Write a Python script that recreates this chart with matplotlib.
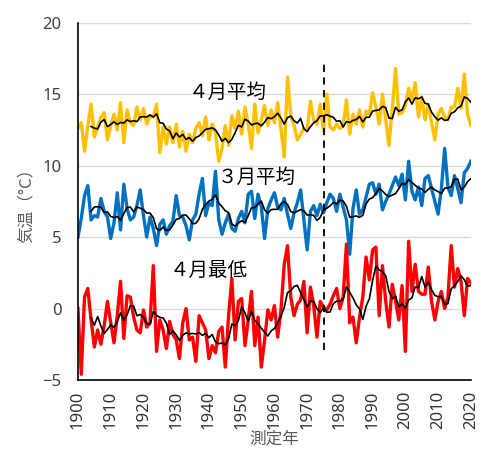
import numpy as np
import pandas as pd
import matplotlib.pyplot as plt

plt.rcParams['font.family'] = ['Noto Sans', 'Noto Sans CJK JP', 'DejaVu Sans']
cjk = ['Noto Sans CJK JP', 'DejaVu Sans']

years = list(range(1900, 2021))

# 4月平均
apr_mean = [12.6, 13.0, 11.0, 12.8, 14.3, 12.0, 12.7, 13.4, 13.7, 11.8,
            12.8, 13.6, 12.5, 14.4, 11.6, 13.9, 13.0, 12.8, 14.1, 13.2,
            14.0, 12.9, 13.5, 13.4, 14.3, 10.9, 12.7, 11.5, 12.7, 11.6,
            12.9, 11.3, 12.4, 11.0, 12.2, 11.6, 12.6, 13.0, 12.1, 13.4,
            11.8, 12.9, 12.3, 10.3, 11.2, 12.8, 11.4, 13.5, 12.6, 13.8,
            12.2, 14.1, 12.9, 11.2, 14.3, 12.3, 13.2, 14.2, 12.8, 13.9,
            13.0, 14.4, 12.6, 10.6, 16.2, 13.5, 12.8, 11.8, 12.2, 12.6,
            12.5, 14.5, 13.2, 12.9, 14.3, 12.4, 15.0, 12.7, 12.5, 12.9,
            12.6, 12.8, 14.6, 12.2, 13.6, 12.9, 13.9, 12.7, 13.8, 13.6,
            15.1, 14.1, 12.9, 15.0, 13.2, 11.4, 14.0, 16.8, 13.6, 13.7,
            14.2, 15.4, 14.6, 15.8, 13.4, 14.8, 13.2, 14.3, 13.0, 11.8,
            13.6, 14.0, 13.4, 13.2, 14.1, 14.1, 15.4, 14.0, 16.4, 13.6,
            12.8]

# 3月平均
mar_mean = [5.0, 6.3, 7.9, 8.6, 6.2, 6.5, 6.4, 7.7, 6.8, 6.4,
            4.9, 6.0, 8.1, 5.5, 8.7, 7.0, 6.2, 6.4, 7.2, 8.3,
            6.5, 5.0, 6.4, 5.6, 4.4, 5.9, 6.2, 5.2, 5.8, 6.1,
            7.9, 6.5, 6.4, 5.8, 4.8, 6.2, 6.6, 8.0, 9.1, 6.5,
            7.4, 7.2, 9.6, 6.2, 5.2, 6.0, 6.6, 5.6, 5.4, 6.3,
            6.8, 6.0, 8.0, 8.2, 6.3, 8.0, 7.1, 4.9, 7.0, 7.6,
            8.1, 7.1, 6.9, 7.7, 6.6, 5.6, 6.7, 7.4, 8.3, 6.2,
            4.1, 6.8, 7.2, 6.5, 7.3, 6.7, 7.4, 8.0, 7.7, 6.8,
            8.0, 7.1, 6.2, 3.8, 7.0, 8.3, 6.6, 6.9, 7.8, 8.7,
            8.8, 8.0, 8.7, 6.9, 7.5, 8.0, 8.6, 9.2, 8.6, 9.4,
            7.6, 10.3, 8.2, 7.6, 8.5, 7.2, 9.1, 9.3, 8.4, 7.5,
            6.6, 8.4, 11.2, 8.5, 7.9, 9.3, 8.4, 7.4, 9.5, 9.8,
            10.3]

# 4月最低
apr_min = [0.0, -4.6, 0.8, 1.4, -0.8, -2.7, -1.5, -2.5, -1.2, 0.5,
           -1.0, -2.4, -0.5, 1.9, -2.1, 0.9, 0.8, -0.6, -1.5, -1.7,
           -0.1, -1.3, -1.0, 3.0, -3.0, -0.8, -1.5, -2.8, -0.9, -1.8,
           -2.2, -3.5, -1.0, 0.0, -2.2, -2.0, -3.7, -0.5, -1.0, -1.5,
           -3.5, -2.6, -3.1, -1.6, -1.3, -4.1, -0.5, 2.1, -2.2, 0.5,
           0.7, -2.6, -0.8, 1.2, -2.6, -0.6, -4.1, -2.2, -0.1, -0.8,
           0.2, -2.0, -0.1, 3.1, 4.4, 0.8, -0.5, 0.3, 0.6, 1.9,
           -1.7, 1.5, 0.2, -2.0, 0.5, 0.1, -0.1, 0.3, 0.9, 1.4,
           0.0, 0.8, 4.5, -1.0, -0.6, -2.4, -0.6, 0.8, 3.6, 2.0,
           4.1, 4.3, -0.5, 3.0, 0.5, -1.3, 1.7, 0.5, -0.8, 1.6,
           -3.0, 4.7, 1.2, 3.1, 1.2, 1.0, 1.0, 2.9, 0.5, -0.8,
           0.5, 1.2, 0.0, 0.8, 4.4, 1.5, 2.8, 1.9, -0.5, 2.1,
           1.8]

datos = pd.DataFrame({'apr_mean': apr_mean, 'mar_mean': mar_mean,
                      'apr_min': apr_min}, index=years)
# 5年移動平均
media = datos.rolling(5).mean()

fig = plt.figure(figsize=(4.92, 4.5), dpi=100)
ax = fig.add_axes([0.1585, 0.1556, 0.7985, 0.794])

ax.plot(datos.index, datos.apr_mean, color='#FFC000', lw=2.4)
ax.plot(media.index, media.apr_mean, color='black', lw=1.2)
ax.plot(datos.index, datos.mar_mean, color='#0070C0', lw=2.4)
ax.plot(media.index, media.mar_mean, color='black', lw=1.2)
ax.plot(datos.index, datos.apr_min, color='#FF0000', lw=2.4)
ax.plot(media.index, media.apr_min, color='black', lw=1.2)

ax.vlines(1975, -2.9, 17.4, colors='black', linestyles=(0, (4, 3)), lw=1.3)

ax.text(1945.8, 15.15, '４月平均', fontsize=14, ha='center', va='center', family=cjk)
ax.text(1954.5, 9.2, '３月平均', fontsize=14, ha='center', va='center', family=cjk)
ax.text(1940, 2.7, '４月最低', fontsize=14, ha='center', va='center', family=cjk)

ax.set_xlim(1900, 2020)
ax.set_ylim(-5, 20)
ax.set_xticks(range(1900, 2021, 10))
ax.set_yticks(range(-5, 21, 5))
ax.tick_params(axis='x', rotation=90, length=0, labelsize=12, labelcolor='#333333', pad=8)
ax.tick_params(axis='y', length=0, labelsize=12, labelcolor='#404040', pad=12)
ax.grid(axis='y', color='#d9d9d9', lw=1)
ax.set_axisbelow(True)
for s in ['top', 'right']:
    ax.spines[s].set_visible(False)
ax.spines['left'].set_linewidth(1.2)
ax.spines['bottom'].set_linewidth(1.2)

ax.set_ylabel('気温（°C）', fontsize=12, color='#595959', labelpad=5, family=cjk)
ax.set_xlabel('測定年', fontsize=12, color='#595959', labelpad=1, family=cjk)

fig.savefig('out.png')
